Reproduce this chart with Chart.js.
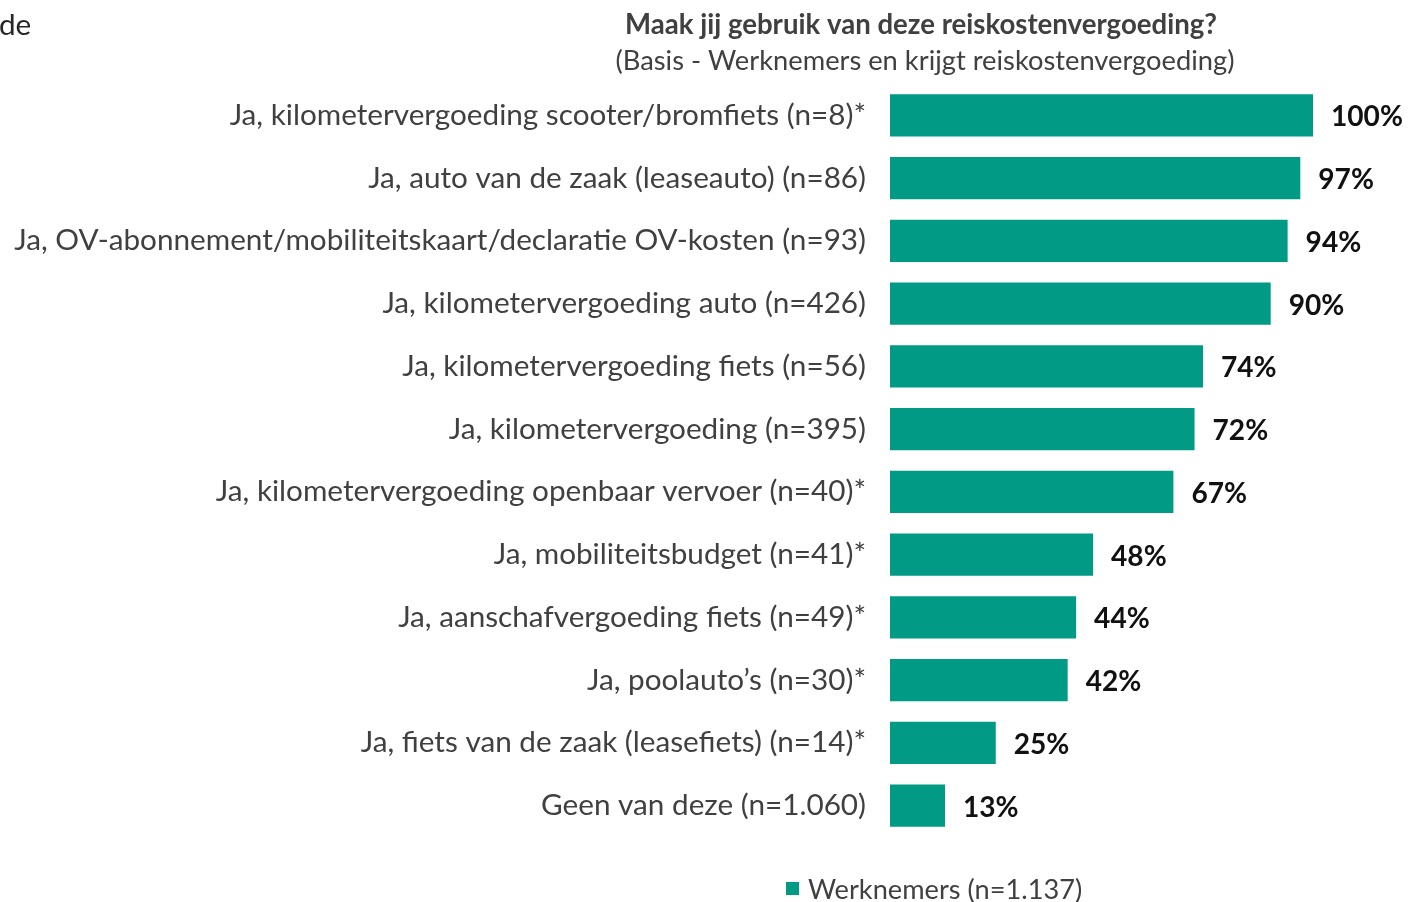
<!DOCTYPE html>
<html>
<head>
<meta charset="utf-8">
<script src="https://cdn.jsdelivr.net/npm/chart.js@4"></script>
<style>
html,body{margin:0;padding:0;background:#fff;}
#wrap{width:1409px;height:902px;position:relative;}
</style>
</head>
<body>
<div id="wrap"><canvas id="c" width="1409" height="902"></canvas></div>
<script>
const categories = [
  "Ja, kilometervergoeding scooter/bromfiets (n=8)*",
  "Ja, auto van de zaak (leaseauto) (n=86)",
  "Ja, OV-abonnement/mobiliteitskaart/declaratie OV-kosten (n=93)",
  "Ja, kilometervergoeding auto (n=426)",
  "Ja, kilometervergoeding fiets (n=56)",
  "Ja, kilometervergoeding (n=395)",
  "Ja, kilometervergoeding openbaar vervoer (n=40)*",
  "Ja, mobiliteitsbudget (n=41)*",
  "Ja, aanschafvergoeding fiets (n=49)*",
  "Ja, poolauto’s (n=30)*",
  "Ja, fiets van de zaak (leasefiets) (n=14)*",
  "Geen van deze (n=1.060)"
];
const werknemers = [100, 97, 94, 90, 74, 72, 67, 48, 44, 42, 25, 13];
const seriesLabel = "Werknemers (n=1.137)";
const titleText = "Maak jij gebruik van deze reiskostenvergoeding?";
const subtitleText = "(Basis - Werknemers en krijgt reiskostenvergoeding)";
const cornerText = "de";

const FAMILY = "Lato, 'Open Sans', sans-serif";
const TEAL = "#009A85";
const TEXT = "#404040";

// pick font size so that a text reaches a target width
const mctx = document.createElement('canvas').getContext('2d');
function fitSize(text, weight, target) {
  mctx.font = weight + " 100px " + FAMILY;
  const w = mctx.measureText(text).width;
  return Math.round(100 * target / w * 10) / 10;
}
const longest = categories.reduce((a, b) => { mctx.font = "400 100px " + FAMILY; return mctx.measureText(b).width > mctx.measureText(a).width ? b : a; });
const tickSize = fitSize(longest, "400", 851);
const titleSize = fitSize(titleText, "700", 593);
const subSize = fitSize(subtitleText, "400", 620);
const legendSize = fitSize(seriesLabel, "400", 274);
const valueSize = fitSize("100%", "700", 72);

const overlay = {
  id: 'overlay',
  afterDatasetsDraw(chart) {
    const ctx = chart.ctx;
    ctx.save();
    // data labels
    const meta = chart.getDatasetMeta(0);
    ctx.font = "700 " + valueSize + "px " + FAMILY;
    ctx.fillStyle = "#111111";
    ctx.textAlign = "left";
    ctx.textBaseline = "middle";
    meta.data.forEach((bar, i) => {
      ctx.fillText(chart.data.datasets[0].data[i] + "%", bar.x + 18, bar.y + 2);
    });
    // titles
    ctx.fillStyle = TEXT;
    ctx.textAlign = "center";
    ctx.font = "700 " + titleSize + "px " + FAMILY;
    ctx.fillText(titleText, 921, 25);
    ctx.font = "400 " + subSize + "px " + FAMILY;
    ctx.fillText(subtitleText, 925, 61);
    // corner fragment
    ctx.textAlign = "left";
    ctx.font = "400 " + tickSize + "px " + FAMILY;
    ctx.fillStyle = "#262626";
    ctx.fillText(cornerText, -1, 25);
    // legend
    ctx.fillStyle = TEAL;
    ctx.fillRect(786, 882, 13, 13);
    ctx.fillStyle = TEXT;
    ctx.font = "400 " + legendSize + "px " + FAMILY;
    ctx.fillText(chart.data.datasets[0].label, 808, 890);
    ctx.restore();
  }
};

new Chart(document.getElementById('c'), {
  type: 'bar',
  data: {
    labels: categories,
    datasets: [{
      label: seriesLabel,
      data: werknemers,
      backgroundColor: TEAL,
      borderWidth: 0,
      barPercentage: 0.67,
      categoryPercentage: 1.0
    }]
  },
  options: {
    indexAxis: 'y',
    responsive: false,
    animation: false,
    layout: { padding: { top: 84, bottom: 65, right: 96, left: 0 } },
    plugins: { legend: { display: false }, title: { display: false }, tooltip: { enabled: false } },
    scales: {
      x: {
        display: false,
        min: 0,
        max: 100
      },
      y: {
        grid: { display: false, drawTicks: false },
        border: { display: false },
        afterFit(s) { s.width = 890; },
        ticks: {
          padding: 24,
          color: TEXT,
          font: { family: FAMILY, size: tickSize }
        }
      }
    }
  },
  plugins: [overlay]
});
</script>
</body>
</html>
